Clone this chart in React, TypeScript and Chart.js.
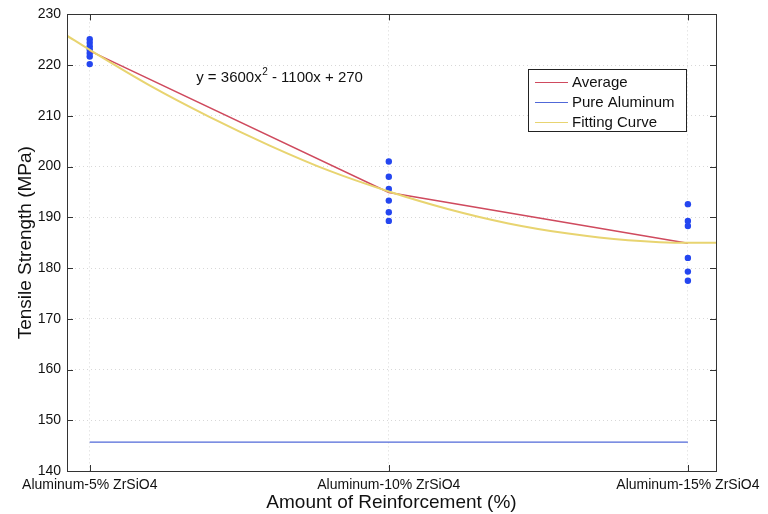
import React, { useEffect, useRef } from "react";
import { Chart, registerables } from "chart.js";

Chart.register(...registerables);

const categories = ["Aluminum-5% ZrSiO4", "Aluminum-10% ZrSiO4", "Aluminum-15% ZrSiO4"];
const categoryX = [0.05, 0.1, 0.15];
const averageValues = [222.8, 194.9, 184.9];
const pureAluminum = [145.7, 145.7];
const samples5 = [225.1, 224.4, 223.7, 223.1, 222.4, 221.7, 220.2];
const samples10 = [201.0, 198.0, 195.6, 193.3, 191.0, 189.3];
const samples15 = [192.6, 189.3, 188.3, 182.0, 179.3, 177.5];
const fitX = [0.0462, 0.05, 0.06, 0.07, 0.08, 0.09, 0.1, 0.11, 0.12, 0.13, 0.14, 0.15, 0.1547];
const fitY = [225.8, 223, 216, 209.8, 204.2, 199.2, 195.1, 191.6, 188.8, 186.8, 185.5, 185, 185];
const yTicks = [140, 150, 160, 170, 180, 190, 200, 210, 220, 230];
const equationParts = ["y = 3600x", "2", " - 1100x + 270"];
const legendLabels = ["Average", "Pure Aluminum", "Fitting Curve"];
const xTitle = "Amount of Reinforcement (%)";
const yTitle = "Tensile Strength (MPa)";

const RED = "#cf4a5e";
const BLUE = "#5068d8";
const YELLOW = "#e8d470";
const DOT = "#2446f0";
const FONT = "'Liberation Sans', Arial, sans-serif";

export default function App() {
  const ref = useRef<HTMLCanvasElement | null>(null);
  useEffect(() => {
    if (!ref.current) return;
    const samplePoints: { x: number; y: number }[] = [];
    [samples5, samples10, samples15].forEach((arr, i) =>
      arr.forEach((v) => samplePoints.push({ x: categoryX[i], y: v }))
    );

    const frame = {
      id: "frame",
      afterDraw(chart: any) {
        const { ctx, chartArea: a, scales } = chart;
        ctx.save();
        ctx.strokeStyle = "#333";
        ctx.lineWidth = 1;
        ctx.strokeRect(Math.round(a.left) + 0.5, Math.round(a.top) + 0.5, Math.round(a.right - a.left), Math.round(a.bottom - a.top));
        // inward ticks
        const tl = 6;
        ctx.beginPath();
        yTicks.forEach((v) => {
          const y = Math.round(scales.y.getPixelForValue(v)) + 0.5;
          ctx.moveTo(a.left, y); ctx.lineTo(a.left + tl, y);
          ctx.moveTo(a.right, y); ctx.lineTo(a.right - tl, y);
        });
        categoryX.forEach((v) => {
          const x = Math.round(scales.x.getPixelForValue(v)) + 0.5;
          ctx.moveTo(x, a.bottom); ctx.lineTo(x, a.bottom - tl);
          ctx.moveTo(x, a.top); ctx.lineTo(x, a.top + tl);
        });
        ctx.stroke();
        // equation
        ctx.fillStyle = "#111";
        ctx.textBaseline = "middle";
        ctx.textAlign = "left";
        let ex = scales.x.getPixelForValue(0.0678);
        const ey = scales.y.getPixelForValue(217.4);
        ctx.font = `15px ${FONT}`;
        ctx.fillText(equationParts[0], ex, ey);
        ex += ctx.measureText(equationParts[0]).width;
        ctx.font = `10px ${FONT}`;
        ctx.fillText(equationParts[1], ex + 0.5, ey - 6);
        ex += ctx.measureText(equationParts[1]).width + 0.5;
        ctx.font = `15px ${FONT}`;
        ctx.fillText(equationParts[2], ex, ey);
        // legend
        const lx = 528, ly = 69, lw = 158, lh = 62;
        ctx.fillStyle = "#fff";
        ctx.fillRect(lx, ly, lw, lh);
        ctx.strokeStyle = "#222";
        ctx.strokeRect(lx + 0.5, ly + 0.5, lw, lh);
        const cols = [RED, BLUE, YELLOW];
        ctx.font = `15px ${FONT}`;
        legendLabels.forEach((t, i) => {
          const y = ly + 13 + i * 20;
          ctx.strokeStyle = cols[i];
          ctx.lineWidth = 1.2;
          ctx.beginPath();
          ctx.moveTo(lx + 7, y + 0.5);
          ctx.lineTo(lx + 40, y + 0.5);
          ctx.stroke();
          ctx.fillStyle = "#111";
          ctx.fillText(t, lx + 44, y + 1);
        });
        ctx.restore();
      },
    };

    const chart = new Chart(ref.current, {
      type: "scatter",
      data: {
        datasets: [
          {
            label: "Fitting Curve",
            data: fitX.map((x, i) => ({ x, y: fitY[i] })),
            showLine: true,
            borderColor: YELLOW,
            borderWidth: 2,
            pointRadius: 0,
            cubicInterpolationMode: "monotone",
          },
          {
            label: "Average",
            data: categoryX.map((x, i) => ({ x, y: averageValues[i] })),
            showLine: true,
            borderColor: RED,
            borderWidth: 1.5,
            pointRadius: 0,
          },
          {
            label: "Pure Aluminum",
            data: [
              { x: categoryX[0], y: pureAluminum[0] },
              { x: categoryX[2], y: pureAluminum[1] },
            ],
            showLine: true,
            borderColor: BLUE,
            borderWidth: 1.2,
            pointRadius: 0,
          },
          {
            label: "Samples",
            data: samplePoints,
            showLine: false,
            pointRadius: 3.2,
            pointBackgroundColor: DOT,
            pointBorderWidth: 0,
          },
        ],
      },
      options: {
        animation: false,
        responsive: false,
        layout: { padding: { left: 0, right: 52, top: 13, bottom: 0 } },
        plugins: { legend: { display: false }, tooltip: { enabled: false } },
        scales: {
          x: {
            type: "linear",
            min: 0.0462,
            max: 0.1547,
            afterBuildTicks: (s: any) => {
              s.ticks = categoryX.map((v) => ({ value: v }));
            },
            afterFit: (s: any) => {
              s.height = 43;
            },
            ticks: {
              autoSkip: false,
              maxRotation: 0,
              padding: 6,
              color: "#111",
              font: { family: FONT, size: 14 },
              callback: (v: any) => {
                const i = categoryX.findIndex((c) => Math.abs(c - Number(v)) < 1e-6);
                return i >= 0 ? categories[i] : "";
              },
            },
            grid: { color: "#d8d8d8", drawTicks: false, tickLength: 0 },
            border: { display: false, dash: [1, 3] },
            title: {
              display: true,
              text: xTitle,
              color: "#111",
              font: { family: FONT, size: 19 },
              padding: { top: 0, bottom: 0 },
            },
          },
          y: {
            type: "linear",
            min: 140,
            max: 230,
            afterBuildTicks: (s: any) => {
              s.ticks = yTicks.map((v) => ({ value: v }));
            },
            afterFit: (s: any) => {
              s.width = 67;
            },
            ticks: {
              padding: 6,
              color: "#111",
              font: { family: FONT, size: 14 },
            },
            grid: { color: "#d8d8d8", drawTicks: false, tickLength: 0 },
            border: { display: false, dash: [1, 3] },
            title: {
              display: true,
              text: yTitle,
              color: "#111",
              font: { family: FONT, size: 19 },
              padding: { top: 14, bottom: 0 },
            },
          },
        },
      },
      plugins: [frame],
    } as any);
    return () => chart.destroy();
  }, []);

  return (
    <div style={{ position: "fixed", left: 0, top: 0, width: 768, height: 514, background: "#fff" }}>
      <canvas ref={ref} width={768} height={514} style={{ width: 768, height: 514 }} />
    </div>
  );
}
